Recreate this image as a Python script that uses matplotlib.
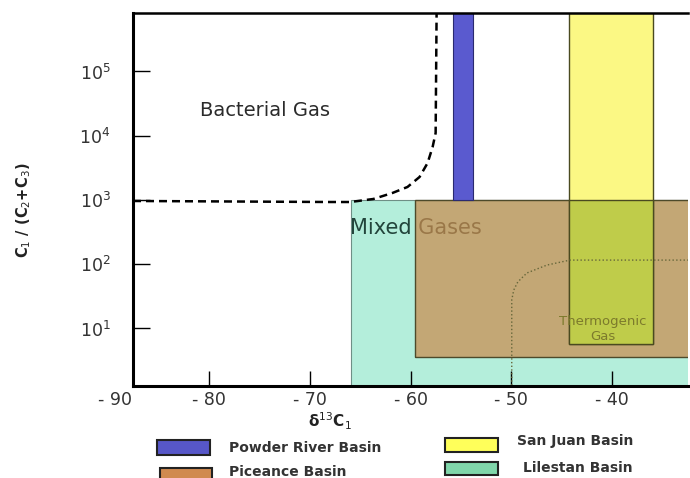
import numpy as np
import matplotlib.pyplot as plt
from matplotlib.patches import Rectangle
from matplotlib.transforms import blended_transform_factory

# basin ranges: delta13C1 (x) and C1/(C2+C3) (y)
basins = ['Powder River Basin', 'Piceance Basin', 'San Juan Basin', 'Lilestan Basin']
basin_x = [(-55.8, -53.8), (-59.6, -30.0), (-44.2, -35.9), (-65.9, -30.0)]
basin_y = [(1e3, 1e6), (3.6, 1e3), (5.8, 1e6), (1.0, 1e3)]

# bacterial gas boundary (dashed)
bact_x = [-87.6, -68.0, -66.0, -63.7, -61.8, -60.3, -59.1, -58.3, -57.8, -57.5, -57.4]
bact_y = [965, 930, 930, 1036, 1285, 1594, 2280, 3765, 6680, 11040, 1e6]

# thermogenic gas boundary (dotted)
thermo_x = [-49.93, -49.93, -49.73, -49.33, -48.43, -46.44, -44.15, -30.0]
thermo_y = [1.0, 27.8, 39.7, 53.0, 73.0, 97.0, 116.0, 116.0]

xtick_vals = [-80, -70, -60, -50, -40]
xtick_text = ['- 80', '- 70', '- 60', '- 50', '- 40']
ytick_vals = [1e1, 1e2, 1e3, 1e4, 1e5]
ytick_text = ['$10^{1}$', '$10^{2}$', '$10^{3}$', '$10^{4}$', '$10^{5}$']

plot_colors = ['#5a5acf', '#c98c4e', '#fbf884', '#b4eedb']
legend_colors = ['#5757c8', '#d08a50', '#ffff5a', '#80d6aa']

fig = plt.figure(figsize=(6.9, 4.78), dpi=100)
ax = fig.add_axes([133 / 690, 1 - 386 / 478, 555 / 690, 373 / 478])
ax.set_yscale('log')
ax.set_xlim(-87.6, -32.4)
ax.set_ylim(10 ** 0.105, 10 ** 5.91)

# Lilestan (teal) first, then text, then Piceance with alpha over it
x0, x1 = basin_x[3]
y0, y1 = basin_y[3]
ax.add_patch(Rectangle((x0, y0), x1 - x0, y1 - y0, facecolor=plot_colors[3],
                       edgecolor='#6f8f86', lw=0.8, zorder=1))

ax.text(-59.5, 1000 * 10 ** (-28 / 64.25), 'Mixed Gases', fontsize=15,
        color='#22443b', ha='center', va='center', zorder=2)

x0, x1 = basin_x[1]
y0, y1 = basin_y[1]
ax.add_patch(Rectangle((x0, y0), x1 - x0, y1 - y0, facecolor=plot_colors[1],
                       alpha=0.72, edgecolor='none', zorder=3))
ax.add_patch(Rectangle((x0, y0), x1 - x0, y1 - y0, facecolor='none',
                       edgecolor='#4d4a2a', lw=1.0, zorder=3.1))

# Powder River
x0, x1 = basin_x[0]
y0, y1 = basin_y[0]
ax.add_patch(Rectangle((x0, y0), x1 - x0, y1 - y0, facecolor=plot_colors[0],
                       edgecolor='#2a2a70', lw=0.8, zorder=4))

# San Juan + overlap with Piceance
x0, x1 = basin_x[2]
y0, y1 = basin_y[2]
ax.add_patch(Rectangle((x0, y0), x1 - x0, y1 - y0, facecolor=plot_colors[2],
                       edgecolor='#4a4a20', lw=1.0, zorder=4))
ox0 = max(basin_x[1][0], basin_x[2][0])
ox1 = min(basin_x[1][1], basin_x[2][1])
oy0 = max(basin_y[1][0], basin_y[2][0])
oy1 = min(basin_y[1][1], basin_y[2][1])
ax.add_patch(Rectangle((ox0, oy0), ox1 - ox0, oy1 - oy0, facecolor='#bfcc4a',
                       edgecolor='#4a4a20', lw=1.0, zorder=4.5))

ax.plot(bact_x, bact_y, color='black', lw=1.8, ls=(0, (3.2, 2.0)), zorder=6)
ax.plot(thermo_x, thermo_y, color='#66663a', lw=1.0, ls=':', zorder=6)

ax.text(-74.5, 25000, 'Bacterial Gas', fontsize=14, color='#2b2b2b',
        ha='center', va='center', zorder=6)
ax.text(-40.9, 1000 * 10 ** (-122 / 64.25), 'Thermogenic', fontsize=9.5,
        color='#7c7a2c', ha='center', va='center', zorder=6)
ax.text(-40.9, 1000 * 10 ** (-137 / 64.25), 'Gas', fontsize=9.5,
        color='#7c7a2c', ha='center', va='center', zorder=6)

ax.set_xticks(xtick_vals)
ax.set_xticklabels(xtick_text)
ax.set_yticks(ytick_vals)
ax.set_yticklabels(ytick_text)
ax.minorticks_off()
ax.tick_params(axis='x', direction='in', length=11, width=1.0, pad=3.5,
               labelsize=12.5, labelcolor='#333333')
ax.tick_params(axis='y', direction='in', length=12, width=1.0, pad=16,
               labelsize=12.5, labelcolor='#333333')

trans = blended_transform_factory(ax.transData, ax.transAxes)
ax.text(-89.4, -0.0134, '- 90', transform=trans, fontsize=12.5, color='#333333',
        ha='center', va='top', clip_on=False)

for side in ['left', 'bottom']:
    ax.spines[side].set_linewidth(2.2)
ax.spines['top'].set_linewidth(1.8)
ax.spines['right'].set_visible(False)
for s in ax.spines.values():
    s.set_zorder(7)

ax.set_ylabel('C$_1$ / (C$_2$+C$_3$)', fontsize=10.5, fontweight='bold', color='#222222')
ax.yaxis.set_label_coords(-0.18, 0.47)
ax.set_xlabel('δ$^{13}$C$_1$', fontsize=11, fontweight='bold', color='#222222')
ax.xaxis.set_label_coords(0.355, -0.067)

# legend drawn by hand under the axes
box_pos = [(157, 440, 53, 15), (160, 468, 52, 14), (445, 438, 53, 14), (445, 462, 53, 13)]
text_pos = [(229, 448), (229, 472), (517, 441), (523, 468)]
for name, col, (bx, by, bw, bh), (tx, ty) in zip(basins, legend_colors, box_pos, text_pos):
    fig.patches.append(Rectangle((bx / 690, 1 - (by + bh) / 478), bw / 690, bh / 478,
                                 transform=fig.transFigure, facecolor=col,
                                 edgecolor='#222222', lw=1.5))
    fig.text(tx / 690, 1 - ty / 478, name, fontsize=10, fontweight='bold',
             color='#333333', ha='left', va='center')

fig.savefig('out.png', dpi=100)
